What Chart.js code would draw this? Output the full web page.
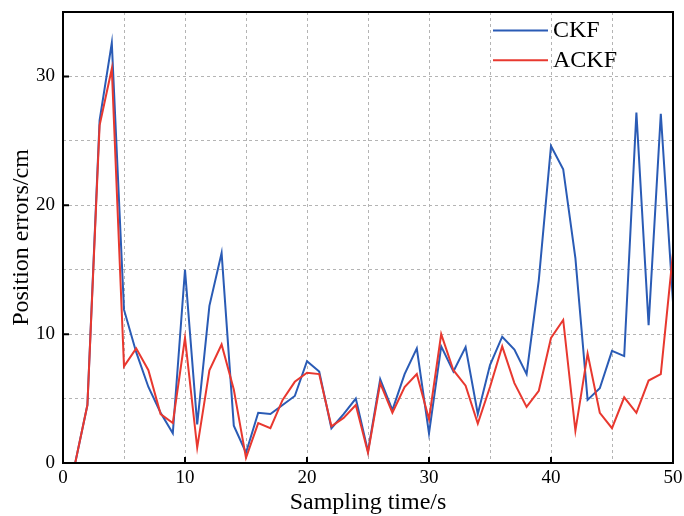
<!DOCTYPE html>
<html>
<head>
<meta charset="utf-8">
<script src="https://cdn.jsdelivr.net/npm/chart.js@4.4.1/dist/chart.umd.min.js"></script>
<style>
  html, body { margin: 0; padding: 0; background: #fff; }
  #wrap { width: 684px; height: 516px; position: relative; }
</style>
</head>
<body>
<div id="wrap"><canvas id="c" width="684" height="516"></canvas></div>
<script>
const times = [1,2,3,4,5,6,7,8,9,10,11,12,13,14,15,16,17,18,19,20,21,22,23,24,25,26,27,28,29,30,31,32,33,34,35,36,37,38,39,40,41,42,43,44,45,46,47,48,49,50];
const ckf = [0, 4.5, 26.6, 32.6, 11.9, 8.6, 5.9, 3.9, 2.3, 15.0,
             3.0, 12.2, 16.3, 2.9, 0.8, 3.9, 3.8, 4.5, 5.2, 7.9,
             7.1, 2.7, 3.8, 5.0, 0.9, 6.5, 4.1, 6.9, 8.9, 2.3,
             9.05, 7.1, 9.0, 3.8, 7.6, 9.8, 8.8, 6.9, 14.2, 24.6,
             22.8, 15.9, 4.9, 5.8, 8.7, 8.3, 27.2, 10.7, 27.1, 12.5];
const ackf = [0, 4.5, 26.2, 30.6, 7.5, 8.9, 7.2, 3.8, 3.1, 9.7,
              1.2, 7.2, 9.2, 5.7, 0.4, 3.1, 2.7, 4.9, 6.3, 7.0,
              6.9, 2.85, 3.5, 4.5, 0.8, 6.2, 3.9, 5.9, 6.9, 3.4,
              10.0, 7.2, 6.0, 3.06, 5.9, 9.05, 6.2, 4.35, 5.6, 9.7,
              11.1, 2.5, 8.5, 3.9, 2.7, 5.1, 3.9, 6.4, 6.9, 16.3];
const seriesNames = ['CKF', 'ACKF'];
const seriesColors = ['#2a5bb5', '#e8382f'];
const xTitle = 'Sampling time/s';
const yTitle = 'Position errors/cm';

const FONT = '"Liberation Serif", "Times New Roman", serif';

const framePlugin = {
  id: 'frame',
  beforeDraw(chart) {
    const ctx = chart.ctx;
    ctx.save();
    ctx.fillStyle = '#fff';
    ctx.fillRect(0, 0, chart.width, chart.height);
    ctx.restore();
  },
  afterDraw(chart) {
    const ctx = chart.ctx;
    const a = chart.chartArea;
    const xs = chart.scales.x, ys = chart.scales.y;
    ctx.save();
    ctx.strokeStyle = '#000';
    ctx.lineWidth = 2;
    ctx.strokeRect(a.left, a.top, a.right - a.left, a.bottom - a.top);
    ctx.beginPath();
    [10, 20, 30, 40].forEach(v => {
      const px = xs.getPixelForValue(v);
      ctx.moveTo(px, a.bottom);
      ctx.lineTo(px, a.bottom - 6);
    });
    [10, 20, 30].forEach(v => {
      const py = ys.getPixelForValue(v);
      ctx.moveTo(a.left, py);
      ctx.lineTo(a.left + 6, py);
    });
    ctx.stroke();
    ctx.font = '24px ' + FONT;
    ctx.textBaseline = 'middle';
    ctx.textAlign = 'left';
    const ys0 = [30.5, 60.3];
    chart.data.datasets.forEach((ds, i) => {
      ctx.strokeStyle = ds.borderColor;
      ctx.lineWidth = 2;
      ctx.beginPath();
      ctx.moveTo(493, ys0[i]);
      ctx.lineTo(548, ys0[i]);
      ctx.stroke();
      ctx.fillStyle = '#000';
      ctx.fillText(ds.label, 553, ys0[i]);
    });
    ctx.restore();
  }
};

new Chart(document.getElementById('c'), {
  type: 'line',
  data: {
    datasets: [
      { label: seriesNames[0], data: times.map((t, i) => ({x: t, y: ckf[i]})),
        borderColor: seriesColors[0], backgroundColor: seriesColors[0],
        borderWidth: 2, pointRadius: 0, tension: 0, order: 1 },
      { label: seriesNames[1], data: times.map((t, i) => ({x: t, y: ackf[i]})),
        borderColor: seriesColors[1], backgroundColor: seriesColors[1],
        borderWidth: 2, pointRadius: 0, tension: 0, order: 0 }
    ]
  },
  options: {
    responsive: false,
    animation: false,
    layout: { padding: { top: 12, right: 11, left: 0, bottom: 0 } },
    plugins: { legend: { display: false }, tooltip: { enabled: false } },
    scales: {
      x: {
        type: 'linear', min: 0, max: 50,
        afterFit(s) { s.height = 53; s.paddingLeft = 0; s.paddingRight = 0; },
        border: { display: false, dash: [3, 3] },
        grid: { color: '#b4b4b4', lineWidth: 1, drawTicks: false },
        ticks: {
          stepSize: 5, padding: 4, color: '#000',
          font: { family: FONT, size: 19, lineHeight: 1.2 },
          maxRotation: 0, autoSkip: false,
          callback: v => (v % 10 === 0 ? String(v) : '')
        },
        title: { display: true, text: xTitle, color: '#000',
          font: { family: FONT, size: 24, lineHeight: 1 }, padding: { top: 0, bottom: 1.5 } }
      },
      y: {
        min: 0, max: 35,
        afterFit(s) { s.width = 63; s.paddingTop = 0; s.paddingBottom = 0; },
        border: { display: false, dash: [3, 3] },
        grid: { color: '#b4b4b4', lineWidth: 1, drawTicks: false },
        ticks: {
          stepSize: 5, padding: 8, color: '#000',
          font: { family: FONT, size: 19, lineHeight: 1.2 },
          autoSkip: false,
          callback: v => (v % 10 === 0 ? String(v) : '')
        },
        title: { display: true, text: yTitle, color: '#000',
          font: { family: FONT, size: 24, lineHeight: 1 }, padding: { top: 10, bottom: 0 } }
      }
    }
  },
  plugins: [framePlugin]
});
</script>
</body>
</html>
